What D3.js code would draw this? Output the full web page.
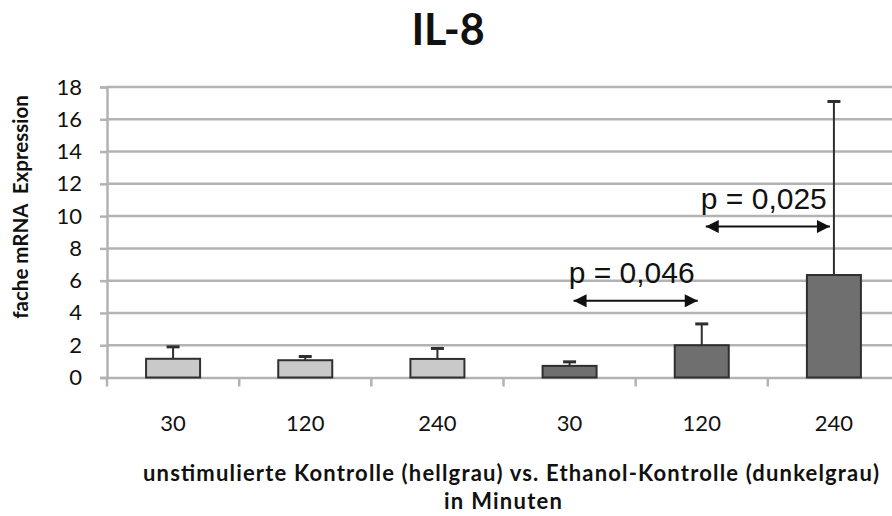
<!DOCTYPE html>
<html>
<head>
<meta charset="utf-8">
<script src="https://cdn.jsdelivr.net/npm/d3@7/dist/d3.min.js"></script>
<style>
  html, body { margin: 0; padding: 0; background: #fff; }
  svg { display: block; }
</style>
</head>
<body>
<svg id="chart" width="892" height="516"></svg>
<script>
// IL-8 fold mRNA expression: unstimulated control vs. ethanol control
const categories = ["30", "120", "240", "30", "120", "240"];
const groups = ["hell", "hell", "hell", "dunkel", "dunkel", "dunkel"];
const means = [1.16, 1.07, 1.15, 0.72, 2.0, 6.35];
const errors = [0.74, 0.23, 0.65, 0.25, 1.32, 10.75];
const yTicks = [0, 2, 4, 6, 8, 10, 12, 14, 16, 18];
const comparisons = [
  { from: 3, to: 4, level: 4.75, label: "p = 0,046" },
  { from: 4, to: 5, level: 9.35, label: "p = 0,025" }
];

const svg = d3.select("#chart");
const W = 892, H = 516;
const plotLeft = 107, plotRight = 900, plotTop = 87, plotBottom = 377.5;

const x = d3.scaleBand().domain(d3.range(categories.length)).range([plotLeft, plotRight]).paddingInner(0).paddingOuter(0);
const y = d3.scaleLinear().domain([0, 18]).range([plotBottom, plotTop]);

const fills = { hell: "#c9c9c9", dunkel: "#6f6f6f" };
const gridColor = "#b3b3b3";
const calibri = "Lato, 'Open Sans', sans-serif";

// title
svg.append("text")
  .attr("x", 448).attr("y", 45)
  .attr("text-anchor", "middle")
  .style("font-family", calibri).style("font-weight", "bold").style("font-size", "43px")
  .attr("fill", "#111")
  .text("IL-8");

// horizontal gridlines
svg.append("g").selectAll("line").data(yTicks.filter(d => d > 0)).join("line")
  .attr("x1", plotLeft).attr("x2", W)
  .attr("y1", d => y(d)).attr("y2", d => y(d))
  .attr("stroke", gridColor).attr("stroke-width", 2.5);

// y axis
const yAxis = d3.axisLeft(y).tickValues(yTicks).tickSize(7).tickPadding(18);
const gy = svg.append("g").attr("transform", `translate(${plotLeft},0)`).call(yAxis);
gy.select(".domain").attr("stroke", gridColor).attr("stroke-width", 2.5);
gy.selectAll(".tick line").attr("stroke", gridColor).attr("stroke-width", 2.5);
gy.selectAll(".tick text")
  .style("font-family", calibri).style("font-size", "22px").attr("fill", "#111");

// x axis
const xAxis = d3.axisBottom(x).tickValues([]).tickSizeOuter(0);
const gx = svg.append("g").attr("transform", `translate(0,${plotBottom})`).call(xAxis);
gx.select(".domain").attr("stroke", gridColor).attr("stroke-width", 2.5);
gx.selectAll(".sep").data(d3.range(0, categories.length)).join("line")
  .attr("class", "sep")
  .attr("x1", i => x(i)).attr("x2", i => x(i))
  .attr("y1", 0).attr("y2", 9)
  .attr("stroke", gridColor).attr("stroke-width", 2.5);

// category labels
svg.append("g").selectAll("text").data(categories).join("text")
  .attr("x", (d, i) => x(i) + x.bandwidth() / 2)
  .attr("y", 431)
  .attr("text-anchor", "middle")
  .style("font-family", calibri).style("font-size", "22px").attr("fill", "#111")
  .text(d => d);

// bars
const barW = 54;
svg.append("g").selectAll("rect").data(means).join("rect")
  .attr("x", (d, i) => x(i) + x.bandwidth() / 2 - barW / 2)
  .attr("y", d => y(d))
  .attr("width", barW)
  .attr("height", d => y(0) - y(d))
  .attr("fill", (d, i) => fills[groups[i]])
  .attr("stroke", "#2f2f2f").attr("stroke-width", 2);

// error bars (upper only)
const err = svg.append("g").attr("stroke", "#2f2f2f");
means.forEach((m, i) => {
  const cx = x(i) + x.bandwidth() / 2;
  err.append("line").attr("x1", cx).attr("x2", cx)
    .attr("y1", y(m)).attr("y2", y(m + errors[i])).attr("stroke-width", 2);
  err.append("line").attr("x1", cx - 6.5).attr("x2", cx + 6.5)
    .attr("y1", y(m + errors[i])).attr("y2", y(m + errors[i])).attr("stroke-width", 3);
});

// significance arrows
svg.append("defs").append("marker").attr("id", "ah")
  .attr("viewBox", "0 0 10 10").attr("refX", 10).attr("refY", 5)
  .attr("markerWidth", 15).attr("markerHeight", 13).attr("markerUnits", "userSpaceOnUse")
  .attr("orient", "auto-start-reverse")
  .append("path").attr("d", "M0,0 L10,5 L0,10 Z").attr("fill", "#111");

comparisons.forEach(c => {
  const x1 = x(c.from) + x.bandwidth() / 2 + 4;
  const x2 = x(c.to) + x.bandwidth() / 2 - 4;
  const yy = y(c.level);
  svg.append("line").attr("x1", x1).attr("x2", x2).attr("y1", yy).attr("y2", yy)
    .attr("stroke", "#111").attr("stroke-width", 2)
    .attr("marker-start", "url(#ah)").attr("marker-end", "url(#ah)");
  svg.append("text")
    .attr("x", (x1 + x2) / 2 - 4).attr("y", yy - 18)
    .attr("text-anchor", "middle")
    .style("font-family", "'Liberation Sans', Arial, sans-serif").style("font-size", "30px")
    .attr("fill", "#111")
    .text(c.label);
});

// y axis title
svg.append("text")
  .attr("transform", "translate(28,207) rotate(-90)")
  .attr("text-anchor", "middle")
  .style("font-family", calibri).style("font-weight", "bold").style("font-size", "20.5px")
  .attr("fill", "#111")
  .text("fache mRNA\u00a0 Expression");

// x axis title (two lines)
svg.append("text")
  .attr("x", 511).attr("y", 481)
  .attr("text-anchor", "middle")
  .attr("textLength", 736).attr("lengthAdjust", "spacing")
  .style("font-family", calibri).style("font-weight", "bold").style("font-size", "22px")
  .attr("fill", "#111")
  .text("unstimulierte Kontrolle (hellgrau) vs. Ethanol-Kontrolle (dunkelgrau)");
svg.append("text")
  .attr("x", 503).attr("y", 509)
  .attr("text-anchor", "middle")
  .attr("textLength", 118).attr("lengthAdjust", "spacing")
  .style("font-family", calibri).style("font-weight", "bold").style("font-size", "22px")
  .attr("fill", "#111")
  .text("in Minuten");
</script>
</body>
</html>
